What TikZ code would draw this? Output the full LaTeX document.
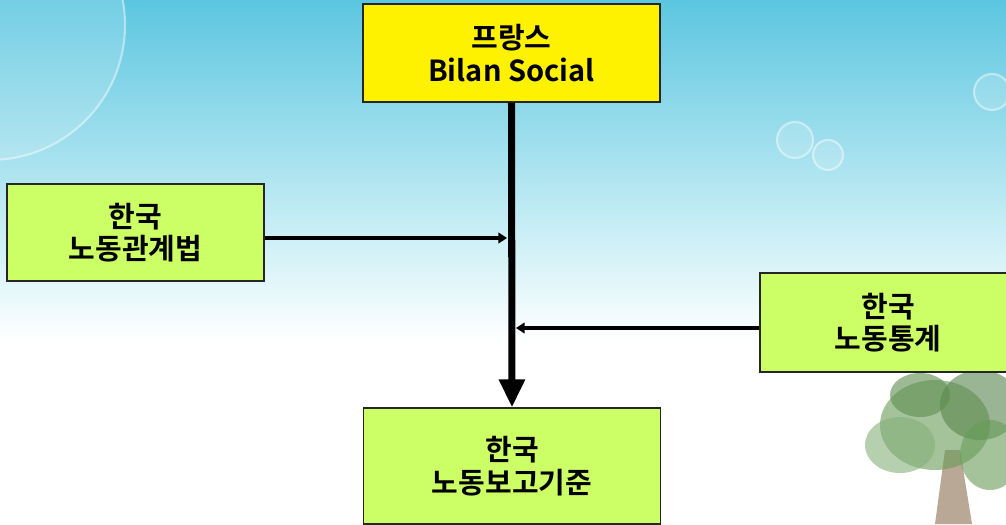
\documentclass[tikz,border=0pt]{standalone}
\usepackage{fontspec}
\setmainfont{Noto Sans CJK KR}
\newfontfamily\krbold{Noto Sans CJK KR Bold}
\usepackage{tikz}
\usepackage{xcolor}
\usetikzlibrary{positioning, arrows.meta}

\definecolor{sky}{RGB}{92,198,224}
\definecolor{skylow}{RGB}{205,240,246}
\definecolor{boxgreen}{RGB}{204,255,102}
\definecolor{leaf}{RGB}{104,156,88}
\definecolor{bark}{RGB}{140,110,80}

\begin{document}
\begin{tikzpicture}[x=0.02cm, y=-0.02cm,
    box/.style={draw=black!85, line width=0.6pt, fill=boxgreen, minimum width=297*0.02cm,
      minimum height=98*0.02cm, align=center, font=\krbold\fontsize{16.5}{18.5}\selectfont},
    bubble/.style={fill=white, fill opacity=0.15, draw=white, draw opacity=0.45, line width=1.2pt}]
      \useasboundingbox (0,0) rectangle (1006,524);

      % sky, bubbles and tree behind the chart
      \fill[white] (0,0) rectangle (1006,524);
      \shade[top color=sky, bottom color=skylow] (0,0) rectangle (1006,240);
      \shade[top color=skylow, bottom color=white] (0,240) rectangle (1006,340);
      \draw[bubble] (-10,25) circle (135);
      \draw[bubble] (795,140) circle (18);
      \draw[bubble] (828,155) circle (15);
      \draw[bubble] (992,92) circle (18);
      \begin{scope}[opacity=0.6]
        \fill[bark] (945,450) -- (960,450) -- (972,524) -- (935,524) -- cycle;
        \fill[leaf] (935,425) ellipse (55 and 45);
        \fill[leaf!85!black] (980,405) ellipse (40 and 35);
        \fill[leaf!80!white] (900,445) ellipse (35 and 28);
        \fill[leaf] (990,455) ellipse (30 and 35);
        \fill[leaf!90!black] (920,395) ellipse (30 and 22);
      \end{scope}

      % chart
      \node[box, fill=yellow] (A) at (511.5,53) {프랑스\\Bilan Social};
      \node[box, minimum width=257*0.02cm, minimum height=97*0.02cm] (B) at (135.5,232.5) {한국\\노동관계법};
      \node[box, minimum width=256*0.02cm, minimum height=99*0.02cm] (C) at (888,322.5) {한국\\노동통계};
      \node[box, minimum height=116*0.02cm] (D) at (512,466) {한국\\노동보고기준};

      \coordinate (P) at (A.south |- 0,238);
      \coordinate (Q) at (A.south |- 0,328);

      \draw[line width=4pt, -{Triangle[width=14pt, length=16pt]}] (A.south) -- (D.north);
      \draw[line width=1.8pt, -{Triangle[width=6pt, length=5pt]}, shorten >=2.5pt] (B.east |- P) -- (P);
      \draw[line width=1.8pt, -{Triangle[width=6pt, length=5pt]}, shorten >=2.5pt] (C.west |- Q) -- (Q);

    \end{tikzpicture}
\end{document}
